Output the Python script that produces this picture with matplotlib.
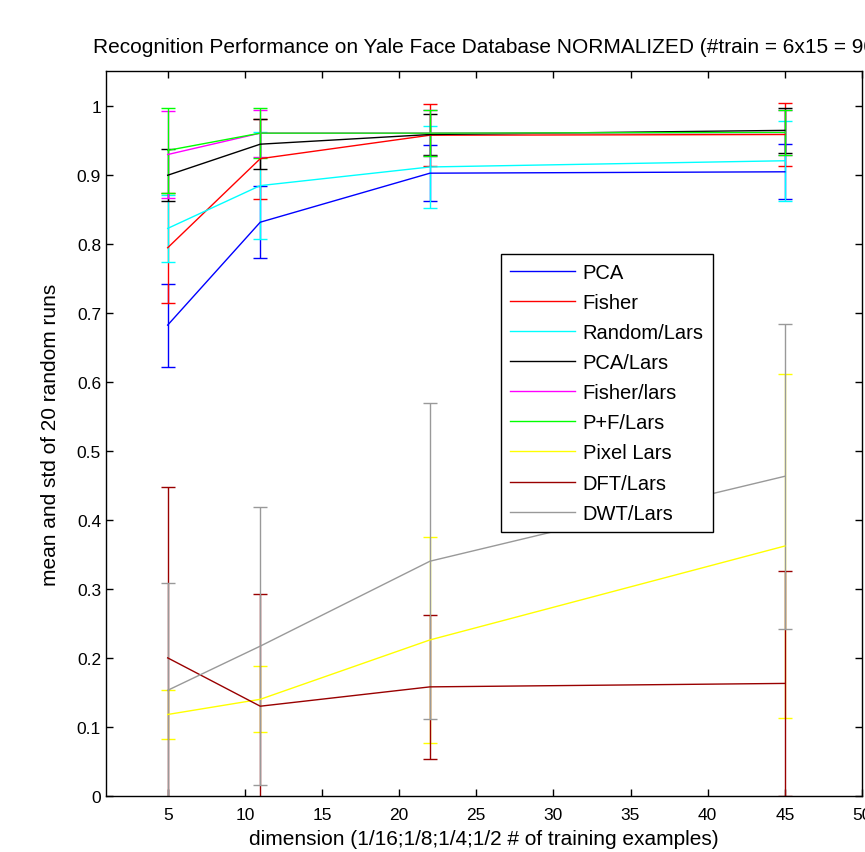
import numpy as np
import matplotlib
matplotlib.use("Agg")
import matplotlib.pyplot as plt
from matplotlib.lines import Line2D

plt.rcParams['font.family'] = ['Liberation Sans', 'DejaVu Sans']

# dimensions used (1/16, 1/8, 1/4, 1/2 of training examples)
dims = [5, 11, 22, 45]

labels = ['PCA', 'Fisher', 'Random/Lars', 'PCA/Lars', 'Fisher/lars',
          'P+F/Lars', 'Pixel Lars', 'DFT/Lars', 'DWT/Lars']

pca_mean = [0.682, 0.831, 0.902, 0.904]
pca_std = [0.060, 0.052, 0.041, 0.040]
fisher_mean = [0.794, 0.923, 0.957, 0.958]
fisher_std = [0.080, 0.058, 0.045, 0.045]
random_mean = [0.822, 0.884, 0.911, 0.920]
random_std = [0.049, 0.077, 0.060, 0.058]
pcalars_mean = [0.899, 0.944, 0.958, 0.964]
pcalars_std = [0.038, 0.036, 0.029, 0.033]
fisherlars_mean = [0.929, 0.960, 0.960, 0.961]
fisherlars_std = [0.063, 0.034, 0.033, 0.033]
pflars_mean = [0.935, 0.960, 0.960, 0.961]
pflars_std = [0.062, 0.036, 0.033, 0.033]
pixel_mean = [0.118, 0.140, 0.226, 0.362]
pixel_std = [0.036, 0.048, 0.149, 0.249]
dft_mean = [0.200, 0.130, 0.158, 0.163]
dft_std = [0.248, 0.163, 0.104, 0.163]
dwt_mean = [0.153, 0.217, 0.340, 0.463]
dwt_std = [0.155, 0.201, 0.229, 0.221]

means = [pca_mean, fisher_mean, random_mean, pcalars_mean, fisherlars_mean,
         pflars_mean, pixel_mean, dft_mean, dwt_mean]
stds = [pca_std, fisher_std, random_std, pcalars_std, fisherlars_std,
        pflars_std, pixel_std, dft_std, dwt_std]
colors = ['#0000ff', '#ff0000', '#00ffff', '#000000', '#ff00ff',
          '#00ff00', '#ffff00', '#990000', '#999999']

fig = plt.figure(figsize=(8.65, 8.53), dpi=100)
ax = fig.add_axes([0.1225, 0.0657, 0.874, 0.8499])

for m, s, c in zip(means, stds, colors):
    ax.errorbar(dims, m, yerr=s, color=c, lw=1.0, elinewidth=1.0,
                capsize=4.7, capthick=1.0)

ax.set_xlim(1, 50)
ax.set_ylim(0, 1.05)
ax.set_xticks(np.arange(5, 51, 5))
ax.set_yticks(np.arange(0, 1.01, 0.1))
ax.set_yticklabels(['0', '0.1', '0.2', '0.3', '0.4', '0.5', '0.6', '0.7', '0.8', '0.9', '1'])
ax.tick_params(direction='in', top=True, right=True, length=5, width=1, labelsize=12.5)
ax.tick_params(axis='x', pad=8)
for sp in ax.spines.values():
    sp.set_linewidth(1.0)

ax.set_title('Recognition Performance on Yale Face Database NORMALIZED (#train = 6x15 = 90)',
             fontsize=15, pad=14, x=0.505)
ax.set_xlabel('dimension (1/16;1/8;1/4;1/2 # of training examples)', fontsize=15, labelpad=5)
ax.set_ylabel('mean and std of 20 random runs', fontsize=15, labelpad=12)

handles = [Line2D([], [], color=c, lw=1.0) for c in colors]
leg = ax.legend(handles, labels, loc='upper left', bbox_to_anchor=(0.5225, 0.7476), fontsize=14.5,
                frameon=True, fancybox=False, framealpha=1, edgecolor='black',
                handlelength=3.25, handletextpad=0.35, labelspacing=0.55,
                borderpad=0.45, borderaxespad=0)
leg.get_frame().set_linewidth(1.0)

fig.savefig('out.png', dpi=100)
